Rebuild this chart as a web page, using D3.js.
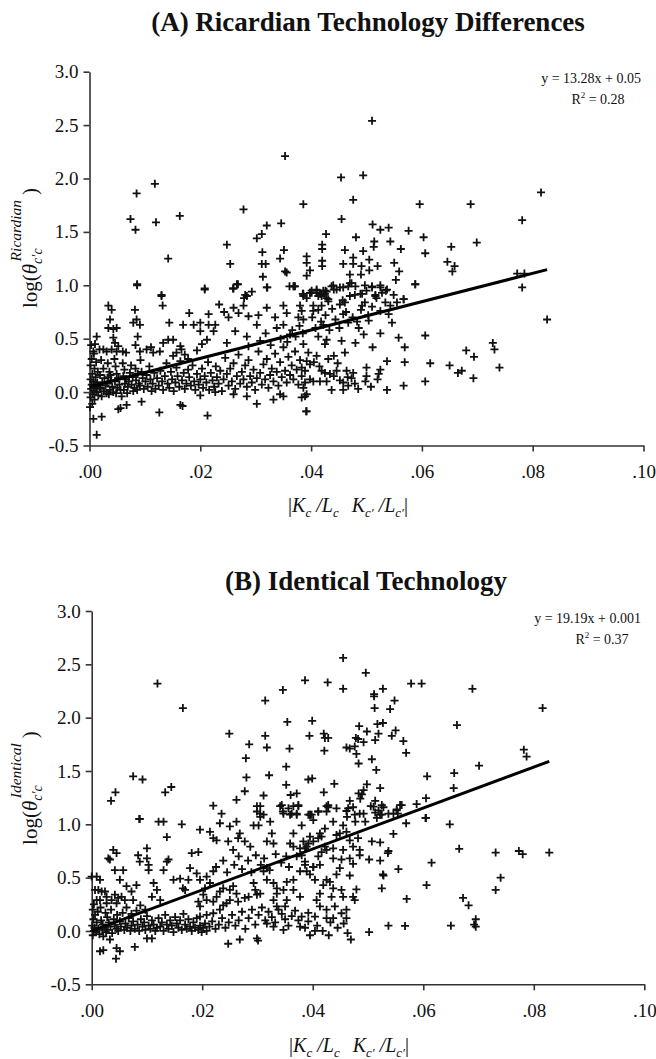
<!DOCTYPE html>
<html>
<head>
<meta charset="utf-8">
<script src="https://cdn.jsdelivr.net/npm/d3@7"></script>
<style>
  body { margin: 0; background: #fff; }
  text { font-family: "Liberation Serif", "Times New Roman", serif; fill: #111; }
</style>
</head>
<body>
<svg id="chart" width="656" height="1059"></svg>
<script>
// tick values shared by both panels
var xTicks = [0, 0.02, 0.04, 0.06, 0.08, 0.10];
var yTicks = [-0.5, 0, 0.5, 1.0, 1.5, 2.0, 2.5, 3.0];

// fitted lines: [slope, intercept]
var fitRicardian = [13.28, 0.05];
var fitIdentical = [19.19, 0.001];
var r2Ricardian = 0.28;
var r2Identical = 0.37;

// (A) Ricardian technology differences, [|Kc/Lc - Kc'/Lc'|, log(theta)]
var ricardianPoints = [
  [.0074,1.62],[.0085,1.86],[.0083,1.52],[.0118,1.95],[.012,1.59],[.0163,1.65],[.0142,1.25],[.0086,1.01],[.013,.91],[.0208,.96],
  [.0278,1.71],[.0248,1.38],[.0254,1.20],[.026,.97],[.0268,1.01],[.0281,.91],[.0293,.94],[.0302,1.44],[.0311,1.48],[.032,1.56],
  [.0312,1.31],[.0311,1.20],[.0318,1.20],[.0313,1.08],[.0321,.98],[.0353,2.21],[.0346,1.58],[.0351,1.33],[.0344,1.25],[.0353,1.13],
  [.0356,1.12],[.0361,.99],[.0369,.99],[.0386,1.76],[.0392,1.27],[.0392,1.21],[.0398,1.14],[.0392,1.09],[.0385,.92],[.0398,.93],
  [.041,.95],[.0418,.92],[.0427,1.48],[.042,1.38],[.042,1.34],[.042,1.23],[.042,1.18],[.0426,.95],
  [.051,2.54],[.0454,2.01],[.0494,2.03],[.0476,1.80],[.0596,1.76],[.0688,1.76],[.0815,1.87],[.0781,1.61],[.0455,1.62],[.0511,1.57],
  [.0525,1.52],[.054,1.54],[.0576,1.51],[.0481,1.45],[.0603,1.45],[.0514,1.41],[.0543,1.41],[.0461,1.33],[.0494,1.32],[.0513,1.36],
  [.0562,1.34],[.0653,1.36],[.0699,1.40],[.0606,1.30],[.0476,1.26],[.0505,1.24],[.0458,1.20],[.0476,1.20],[.0491,1.18],[.052,1.18],
  [.055,1.21],[.0646,1.22],[.0659,1.18],[.0655,1.13],[.0505,1.14],[.0559,1.13],[.047,1.10],[.049,1.10],[.0553,1.05],[.0473,1.02],
  [.0588,1.01],[.0772,1.11],[.0785,1.11],[.0781,.98],[.044,1.00],
  [.0401,.93],[.041,.93],[.0419,.90],[.0428,.94],[.0441,.96],[.0452,.98],[.0467,.99],[.0497,1.0],[.051,.99],[.0525,1.0],
  [.0537,.96],[.0549,.91],[.0567,.87],[.0479,.91],[.0492,.92],[.0516,.91],
  [.0386,.92],[.0392,.88],[.0401,.95],[.041,.96],[.0416,.92],[.0422,.95],[.0428,.88],[.0437,.99],[.0446,.96],[.0458,.98],
  [.047,1.02],[.048,.99],[.0489,.92],[.05,.95],[.051,.98],[.0516,.90],[.0525,.98],[.0534,.84],[.0543,.81],[.0555,.84],
  [.0567,.87],[.0588,1.01],[.0458,.73],[.0467,.65],[.0504,.67],[.0525,.76],[.054,.73],[.0546,.65],[.0386,.68],[.0422,.63],
  [.0404,.81],[.0413,.77],[.0431,.85],[.0452,.82],[.0461,.84],[.0492,.81],
  [.0486,.60],[.0495,.54],[.048,.46],[.0455,.48],[.0428,.49],[.0425,.45],[.0413,.52],[.0441,.34],[.0461,.37],[.041,.34],
  [.0395,.37],[.0392,.29],[.0398,.26],[.0389,.20],[.0383,.23],[.0419,.20],[.0425,.18],[.0434,.17],[.0441,.15],[.0446,.20],
  [.0464,.20],[.0476,.18],[.0473,.13],[.0467,.06],[.0458,.02],[.0437,.02],[.0428,.10],[.0416,.10],[.0404,.10],[.0398,.12],
  [.0389,.09],[.0386,.04],[.0389,-.04],[.0392,-.02],
  [.0525,.55],[.0558,.51],[.0606,.53],[.0569,.42],[.0511,.42],[.0537,.29],[.0569,.28],[.0615,.27],[.065,.25],[.068,.39],
  [.0694,.33],[.0665,.18],[.0672,.20],[.0693,.13],[.0728,.46],[.0731,.40],[.074,.23],[.0606,.10],[.0567,.06],[.0537,.02],
  [.0525,.21],[.0522,.17],[.05,.23],[.05,.15],[.0391,-.18],[.0826,.68],
  [.0086,1.00],[.013,.90],[.0132,.81],[.0034,.81],[.004,.77],[.0082,.77],[.0085,.68],[.0079,.65],[.0091,.63],[.0037,.68],
  [.0034,.60],[.0043,.59],[.0049,.60],[.0144,.65],[.0208,.97],[.018,.74],[.0169,.63],[.0188,.63],[.02,.65],[.0215,.63],
  [.0227,.63],[.0215,.73],[.0234,.82],[.0243,.75],[.0251,.70],[.026,.79],[.0269,.74],[.0278,.81],[.0287,.71],[.0266,1.01],
  [.0259,.97],[.0284,.90],[.0279,.88],[.0302,.63],[.0305,.72],[.032,.79],[.032,.98],[.0335,.70],[.035,.81],[.0356,.74],
  [.0368,.99],[.0371,.99],[.038,.81],[.0386,.90],[.0398,.93],[.0413,.90],[.0425,.92],[.0431,.87],[.0419,.81],[.0377,.70],
  [.0383,.76],[.0404,.76],[.035,.63],[.0362,.54],[.0224,.57],[.02,.57],[.0212,.49],[.0203,.45],[.0194,.39],[.0263,.57],
  [.0248,.46],[.0284,.52],[.0287,.43],[.0083,.44],[.0087,.52],[.0091,.38],[.0103,.40],[.0111,.42],[.0115,.37],[.0127,.38],
  [.0133,.46],[.0142,.49],[.0151,.49],[.0013,.52],[.001,.45],[.0007,.38],[.0018,.40],[.0025,.40],[.0043,.51],[.0046,.46],
  [.0052,.43],[.0049,.38],[.004,.40],[.0031,.38],[.006,.38],[.0066,.37],[.0164,.43],[.0166,.40],[.0157,.37],[.0151,.34],
  [.0172,.35],[.0178,.31],
  [.0005,-.11],[.0001,-.14],[.0007,-.25],[.0022,-.23],[.0013,-.40],[.0052,-.16],[.0056,-.15],[.0067,-.12],[.0094,-.09],[.0126,-.19],
  [.0213,-.22],[.0164,-.12],[.0168,-.13],[.0302,-.11],[.0332,-.07],[.0344,-.02],[.035,-.04],[.0383,-.05],[.0392,-.18],[.0227,.0],
  [.02,-.03],[.026,-.02],[.0284,-.04],
  [.0003,.44],[.0008,.36],[.0004,.31],[.0012,.28],[.0002,.25],[.0009,.22],[.0015,.19],[.0005,.17],[.0011,.14],[.0002,.12],
  [.0007,.10],[.0014,.09],[.0004,.07],[.001,.05],[.0018,.04],[.0003,.03],[.0008,.01],[.0013,.0],[.0006,-.02],[.0016,-.03],
  [.0002,-.05],[.0009,-.07],[.0021,.30],[.0025,.22],[.0019,.16],[.0027,.13],[.0023,.09],[.0029,.06],[.002,.03],[.0026,.01],
  [.0031,-.01],[.0022,-.04],[.0033,.27],[.0036,.19],[.0034,.14],[.0039,.11],[.0032,.08],[.0041,.05],[.0037,.02],[.0035,-.02],
  [.0043,.0],[.0038,.16],[.0045,.31],[.0047,.24],[.0049,.17],[.0052,.13],[.0046,.10],[.0054,.07],[.005,.04],[.0056,.02],
  [.0048,-.01],[.0058,-.04],[.006,.27],[.0063,.21],[.0061,.15],[.0066,.12],[.0064,.08],[.0069,.05],[.0062,.02],[.0068,-.01],
  [.0071,.1],[.0073,.18],[.0075,.25],[.0078,.14],[.0076,.07],[.0081,.04],[.0079,.01],[.0084,.11],[.0087,.17],[.0089,.08],
  [.0086,.02],[.0083,.22],[.0092,.30],[.0094,.19],[.0096,.13],[.0091,.06],[.0098,.03],[.0101,.1],[.0103,.16],[.0105,.05],
  [.0108,.24],[.011,.12],[.0112,.01],[.0114,.08],[.0117,.18],[.0119,.03],
  [.0122,.13],[.0125,.06],[.0128,.2],[.0131,.1],[.0133,.02],[.0136,.15],[.0139,.27],[.0141,.08],[.0144,.04],[.0147,.19],
  [.0149,.12],[.0152,.01],[.0155,.09],[.0157,.23],[.0159,.15],[.0162,.05],[.0164,.29],[.0167,.11],[.017,.18],[.0172,.03],
  [.0175,.08],[.0178,.21],[.018,.14],[.0183,.06],[.0186,.25],[.0189,.1],[.0191,.02],[.0194,.17],[.0197,.07],[.02,.12],
  [.0203,.22],[.0205,.04],[.0208,.15],[.0211,.09],[.0214,.28],[.0216,.02],[.0219,.18],[.0222,.11],[.0225,.05],[.0228,.24],
  [.023,.14],[.0233,.08],[.0236,.2],[.0239,.01],[.0242,.12],[.0245,.32],[.0248,.17],[.0251,.06],
  [.0254,.22],[.0257,.1],[.026,.27],[.0263,.03],[.0266,.15],[.0269,.35],[.0272,.08],[.0275,.19],[.0278,.12],[.0281,.25],
  [.0284,.05],[.0287,.3],[.029,.15],[.0293,.09],[.0296,.21],[.0299,.02],[.0302,.13],[.0305,.38],[.0308,.18],[.0311,.07],
  [.0314,.26],[.0317,.12],[.032,.31],[.0323,.04],[.0326,.16],[.0329,.22],[.0332,.1],[.0335,.36],[.0338,.19],[.0341,.06],
  [.0344,.28],[.0347,.14],[.035,.42],[.0353,.2],[.0356,.09],[.0359,.33],[.0362,.16],[.0365,.25],[.0368,.12],[.0371,.38],
  [.0374,.21],[.0377,.07],[.038,.3],[.0383,.15],[.0386,.45],
  [.0308,.48],[.0318,.55],[.0327,.44],[.0338,.6],[.0345,.5],[.0357,.47],[.0366,.58],[.0372,.52],[.0379,.62],[.0385,.55],
  [.0405,.28],[.0415,.24],[.0431,.31],[.0448,.27],[.0452,.11],[.0458,.09],[.0466,.14],[.0479,.08],[.0485,.03],[.0498,.1],
  [.0508,.05],[.052,.12],
  [.0402,.7],[.0408,.6],[.0418,.66],[.0426,.72],[.0433,.58],[.0438,.78],[.0444,.68],[.0451,.6],[.0457,.86],[.0463,.75],
  [.047,.9],[.0475,.7],[.0483,.66],[.049,.77],[.0497,.84],[.0503,.72],[.051,.8],[.0518,.88],[.0528,.93],[.0535,.95]
];

// (B) identical technology
var identicalPoints = [
  [.0119,2.32],[.0165,2.09],[.0035,1.22],[.0043,1.30],[.0075,1.45],[.0092,1.42],[.0133,1.30],[.0144,1.35],[.0087,1.05],[.022,1.175],
  [.0235,1.10],[.0249,1.85],[.0262,1.23],[.0279,1.62],[.028,1.44],[.0277,1.31],[.0285,1.75],[.0314,2.16],[.0314,1.83],[.0317,1.72],
  [.0321,1.46],[.0311,1.27],[.0305,1.17],[.0305,1.10],[.0346,2.26],[.0354,1.96],[.0358,1.71],[.0352,1.54],[.0352,1.37],[.036,1.275],
  [.0371,1.29],[.0344,1.18],[.0346,1.12],[.0356,1.15],[.0365,1.17],[.0374,1.18],[.0359,1.09],[.0371,1.10],[.0386,2.35],[.0399,1.97],
  [.0394,1.83],[.0399,1.43],[.0392,1.42],[.042,1.30],[.0392,1.09],[.0398,1.09],[.041,1.12],[.0427,2.33],[.042,1.85],[.0422,1.81],
  [.0428,1.81],[.0421,1.69],[.0425,1.17],[.0428,1.18],
  [.0455,2.56],[.0496,2.42],[.0455,2.27],[.0511,2.22],[.0511,2.20],[.0527,2.27],[.0578,2.32],[.0597,2.32],[.0689,2.27],[.0548,2.16],
  [.0512,2.09],[.054,2.08],[.0816,2.09],[.0661,1.93],[.0484,1.92],[.0498,1.87],[.0517,1.94],[.0527,1.95],[.0519,1.85],[.055,1.88],
  [.0543,1.83],[.0513,1.79],[.0564,1.78],[.0569,1.67],[.0461,1.72],[.0467,1.71],[.0478,1.81],[.0482,1.80],[.0476,1.73],[.0492,1.77],
  [.0479,1.66],[.0483,1.57],[.0507,1.61],[.0515,1.51],[.0782,1.70],[.0787,1.635],[.0701,1.55],[.0656,1.48],[.0655,1.34],[.0607,1.45],
  [.0605,1.245],[.0588,1.19],[.0439,1.38],[.0498,1.375],[.0483,1.29],[.0489,1.28],[.0492,1.32],[.0486,1.24],[.0522,1.34],[.0467,1.22],
  [.0513,1.22],[.0505,1.17],[.0528,1.16],[.0561,1.18],[.0552,1.14],[.0537,1.10],[.0522,1.09],[.0513,1.11],[.0492,1.10],[.0473,1.16],
  [.0476,1.09],[.0461,1.125],[.0443,1.15],[.0428,1.16],[.0425,1.12],[.041,1.12],[.0395,1.09],[.0554,1.10],[.0604,1.06],
  [.0086,1.05],[.0121,1.025],[.013,1.025],[.0163,1.0],[.0136,.88],
  [.0196,.95],[.0214,.93],[.022,.87],[.0226,.85],[.0232,1.01],[.025,.98],[.0262,1.025],[.0268,.915],[.0265,.87],[.0247,.84],
  [.0256,.76],[.0277,.84],[.0287,.79],[.0293,.99],[.0302,.99],[.0311,1.09],[.0299,1.12],[.0299,1.17],[.0305,1.07],[.0323,1.025],
  [.0326,.915],[.0317,.84],[.0329,.82],[.0341,1.17],[.0347,1.10],[.0362,1.10],[.0374,1.17],[.0371,1.09],[.038,.99],[.0395,1.09],
  [.0401,1.04],[.0395,.885],[.0383,.84],[.0365,.915],[.0359,.82],[.0365,.79],[.0377,.775],[.0389,.79],[.0416,.885],[.0422,.79],
  [.041,.70],[.0401,.60],[.0386,.65],[.038,.71],[.0371,.70],
  [0,.51],[.0009,.51],[.0015,.48],[.0006,.385],[.0012,.385],[.0018,.37],[.0009,.29],[.0015,.29],[.0024,.37],[.0027,.32],
  [.0027,.26],[.0036,.29],[.0042,.34],[.0048,.31],[.0045,.26],[.0054,.32],[.006,.29],[.0033,.67],[.0039,.76],[.0045,.73],
  [.003,.68],[.0042,.57],[.0057,.57],[.0051,.48],[.0063,.42],[.0072,.37],[.0075,.29],[.0081,.43],[.0084,.71],[.0087,.65],
  [.01,.68],[.01,.775],[.0103,.62],[.0103,.57],[.0109,.32],[.0112,.45],[.0118,.385],[.0124,.29],[.013,.57],[.0136,.65],
  [.0139,.67],[.0148,.48],[.016,.49],[.0165,.40],[.0169,.385],[.0175,.48],[.0181,.73],[.0193,.74],[.0178,.59],[.019,.54],
  [.0196,.48],[.0208,.51],[.022,.56],[.0214,.45],[.0205,.40],[.0202,.34],[.0193,.275],[.0196,.23],[.0208,.29],[.022,.275],
  [.0226,.32],[.0232,.37],[.0238,.40],[.025,.385],[.0256,.42],[.0262,.35],[.0265,.275],[.025,.29],[.0244,.26],[.0238,.24],
  [.0232,.20],[.022,.166],[.0208,.15],[.0196,.135],[.0277,.31],[.0284,.32],[.0293,.45],[.0296,.385],[.0299,.34],[.0305,.35],
  [.0311,.56],[.0317,.48],[.0317,.59],[.0329,.45],[.0335,.40],[.0347,.385],[.0353,.46],[.0365,.48],[.0377,.56],[.0365,.385],
  [.0377,.32],[.0353,.29],[.035,.23],[.0335,.23],[.0329,.29],[.0335,.35],
  [.0225,.6],[.0238,.66],[.0245,.55],[.0258,.62],[.0266,.7],[.0272,.58],[.0283,.66],[.0289,.55],[.0297,.71],[.0306,.62],
  [.0312,.68],[.0322,.57],[.0333,.72],[.0343,.64],[.0352,.7],[.0357,.6],
  [.0015,-.19],[.0021,-.18],[.0045,-.16],[.0051,-.19],[.0044,-.26],[.0078,-.15],[.0033,-.08],[.0021,-.05],[.01,-.07],[.0109,-.07],
  [.0247,-.12],[.0268,-.08],[.0299,-.07],[.0301,-.09],[.0347,.01],[.0329,.04],[.0317,.07],[.0377,.04],[.0395,-.04],[.0404,.0],
  [.0392,.09],[.038,.135],[.0404,.135],
  [.0002,.2],[.0006,.15],[.0003,.11],[.0009,.08],[.0001,.05],[.0005,.03],[.0012,.02],[.0004,.0],[.0008,-.01],[.0014,-.03],
  [.0002,-.04],[.0017,.1],[.002,.06],[.0023,.03],[.0019,.01],[.0026,-.01],[.0028,.13],[.0031,.08],[.0034,.04],[.0029,.01],
  [.0037,-.02],[.004,.11],[.0042,.06],[.0045,.02],[.0048,.0],[.0051,.09],[.0053,.04],[.0056,.17],[.0059,.01],[.0061,.07],
  [.0064,.03],[.0067,.12],[.007,.0],[.0072,.05],[.0075,.09],[.0078,.02],[.0081,.19],[.0083,.06],[.0086,.0],[.0089,.11],
  [.0092,.04],[.0095,.08],[.0097,.01],[.01,.14],[.0103,.05],[.0106,.02],[.0109,.1],[.0112,.06],[.0115,.0],[.0118,.03],
  [.0004,.25],[.0011,.18],[.0016,.22],[.0025,.17],[.0035,.2],[.0046,.15],[.0063,.22],[.0072,.16],[.0088,.24],[.0097,.2],
  [.0121,.12],[.0124,.04],[.0127,.08],[.013,.0],[.0133,.15],[.0136,.06],[.0139,.02],[.0142,.1],[.0145,.05],[.0148,-.01],
  [.0151,.13],[.0154,.07],[.0157,.03],[.016,.1],[.0163,.01],[.0166,.16],[.0169,.06],[.0172,.02],[.0175,.11],[.0178,.04],
  [.0181,.0],[.0184,.08],[.0187,.03],[.019,.12],[.0193,.01],[.0196,.05],[.0199,-.01],[.0202,.03],[.0205,.07],[.0208,.0],
  [.0213,.04],[.0218,.09],[.0224,.02],[.023,.06],[.0236,.12],[.0242,.03],[.0248,.08],[.0254,.15],[.026,.05],[.0266,.1],
  [.0272,.18],[.0278,.02],[.0284,.12],[.029,.2],[.0296,.06],[.0302,.15],[.0308,.22],[.0314,.1],[.032,.18],[.0326,.13],
  [.0332,.08],[.0338,.2],[.0344,.16],[.035,.11],[.0356,.05],[.0362,.14],[.0368,.19],[.0374,.1],[.0386,.03],[.0392,.17],
  [.0648,1.00],[.0605,1.06],[.0665,.77],[.0731,.735],[.0773,.75],[.078,.72],[.0828,.735],[.074,.50],[.0731,.385],[.0615,.64],
  [.0606,.43],[.0672,.31],[.0682,.24],[.0695,.11],[.0695,.04],[.0692,.06],[.065,.05],[.0567,.047],[.0537,.05],[.0502,-.01],
  [.0469,-.08],[.0429,-.04],[.057,.30],
  [.0555,.58],[.0525,.40],[.0527,.53],[.0528,.52],[.0522,.66],[.0536,.73],[.0537,.75],[.0502,.67],[.0473,.63],[.0467,.52],
  [.0479,.39],[.0473,.32],[.0476,.29],[.0452,.385],[.0455,.32],[.0437,.40],[.0434,.32],[.044,.23],[.0425,.20],[.0461,.20],
  [.0461,.12],[.0452,.166],[.0437,.12],[.0425,.12],[.0413,.23],[.0407,.29],[.0413,.35],[.0419,.43],[.0404,.48],[.0395,.53],
  [.0389,.56],[.0386,.62],[.0401,.60],[.0413,.62],[.0425,.48],[.0431,.46],[.0443,.53],[.0449,.59],[.0467,.68],[.0485,.71],
  [.0452,.67],[.0437,.68],[.0507,.84],[.0522,.83],[.0546,.91],[.0569,1.01],[.0558,1.18],[.0519,1.13],[.0525,1.09],[.0546,1.10],
  [.0516,1.06],[.0485,1.10],[.0495,1.025],[.0477,1.025],[.0462,1.07],[.0464,1.15],[.0455,.99],[.0437,1.025],[.0422,.96],[.0413,.915],
  [.041,.87],[.0401,.84],[.0392,.82],[.0386,.775],[.0443,.90],[.0449,.915],[.0461,.93],[.0467,.85],[.0482,.87],[.0473,.79],
  [.0485,.76],[.0455,.76],[.0437,.775],[.0425,.76],[.0416,.74],[.051,1.165],[.0525,1.18],[.0552,1.13],
  [.0408,.05],[.0418,.0],[.0432,.08],[.0445,.03],[.0456,.07],[.0463,-.02]
];

var svg = d3.select('#chart');
svg.append('rect').attr('width', 656).attr('height', 1059).attr('fill', '#fff');

var fmtY = function(d){ return d.toFixed(1); };
var fmtX = function(d){ return d.toFixed(2).replace(/^0/, ''); };

function drawPanel(o){
  var g = svg.append('g');
  var x = d3.scaleLinear().domain([0, 0.1]).range(o.xRange);
  var y = d3.scaleLinear().domain([-0.5, 3]).range(o.yRange);

  g.append('text')
    .attr('x', o.titleX).attr('y', o.titleY)
    .attr('text-anchor', 'middle')
    .style('font-size', '27px').style('font-weight', 'bold')
    .text(o.title);

  var yAxis = g.append('g')
    .attr('transform', 'translate(' + o.xRange[0] + ',0)')
    .call(d3.axisLeft(y).tickValues(yTicks).tickFormat(fmtY).tickSize(6).tickSizeOuter(0).tickPadding(5));
  var xAxis = g.append('g')
    .attr('transform', 'translate(0,' + o.yRange[0] + ')')
    .call(d3.axisBottom(x).tickValues(xTicks).tickFormat(fmtX).tickSize(6).tickSizeOuter(0).tickPadding(13));
  [xAxis, yAxis].forEach(function(a){
    a.selectAll('path, line').attr('stroke', '#333').attr('stroke-width', 1.6);
    a.selectAll('text').style('font-size', '19px')
      .style('font-family', '"Liberation Serif", serif').attr('fill', '#111');
  });

  // points as "+" marks
  g.append('g').selectAll('path')
    .data(o.points)
    .enter().append('path')
    .attr('transform', function(d){ return 'translate(' + x(d[0]) + ',' + y(d[1]) + ')'; })
    .attr('d', 'M-4,0H4M0,-4V4')
    .attr('stroke', '#111')
    .attr('stroke-width', 1.8);

  // fitted line from 0 to the largest x
  var xMax = d3.max(o.points, function(d){ return d[0]; });
  g.append('line')
    .attr('x1', x(0)).attr('y1', y(o.fit[1]))
    .attr('x2', x(xMax)).attr('y2', y(o.fit[0] * xMax + o.fit[1]))
    .attr('stroke', '#000').attr('stroke-width', 3);

  // equation and R^2
  g.append('text')
    .attr('x', 641).attr('y', o.eqY)
    .attr('text-anchor', 'end')
    .style('font-size', '14px')
    .text('y = ' + o.fit[0].toFixed(2) + 'x + ' + o.interceptLabel);
  var r2 = g.append('text')
    .attr('x', o.r2X).attr('y', o.eqY + 21)
    .attr('text-anchor', 'middle')
    .style('font-size', '14px');
  r2.append('tspan').text('R');
  r2.append('tspan').attr('dy', -6).style('font-size', '9px').text('2');
  r2.append('tspan').attr('dy', 6).text(' = ' + o.r2.toFixed(2));

  // y axis title
  var yt = g.append('text')
    .attr('transform', 'translate(37,' + o.yTitleY + ') rotate(-90)')
    .attr('text-anchor', 'middle')
    .style('font-size', '21px');
  yt.append('tspan').text('log(');
  yt.append('tspan').style('font-style', 'italic').text('θ');
  yt.append('tspan').style('font-style', 'italic').style('font-size', '14px').attr('dy', 5).text('c′c');
  yt.append('tspan').style('font-style', 'italic').style('font-size', '15.5px').attr('dx', -13).attr('dy', -21).text(o.superscript);
  yt.append('tspan').attr('dx', 5).attr('dy', 16).text(')');

  // x axis title
  var xt = g.append('text')
    .attr('x', o.xTitleX).attr('y', o.xTitleY)
    .attr('text-anchor', 'middle')
    .style('font-size', '20px');
  xt.append('tspan').text('|');
  xt.append('tspan').style('font-style', 'italic').text('K');
  xt.append('tspan').style('font-style', 'italic').style('font-size', '13px').attr('dy', 5).text('c');
  xt.append('tspan').style('font-style', 'italic').attr('dy', -5).text(' /L');
  xt.append('tspan').style('font-style', 'italic').style('font-size', '13px').attr('dy', 5).text('c');
  xt.append('tspan').style('font-style', 'italic').attr('dy', -5).attr('dx', 13).text('K');
  xt.append('tspan').style('font-style', 'italic').style('font-size', '13px').attr('dy', 5).text('c′');
  xt.append('tspan').style('font-style', 'italic').attr('dy', -5).text(' /L');
  xt.append('tspan').style('font-style', 'italic').style('font-size', '13px').attr('dy', 5).text('c′');
  xt.append('tspan').attr('dy', -5).text('|');
}

drawPanel({
  title: '(A) Ricardian Technology Differences',
  titleX: 368, titleY: 31,
  points: ricardianPoints,
  fit: fitRicardian, interceptLabel: '0.05', r2: r2Ricardian,
  xRange: [89.5, 643.5], yRange: [445.5, 71.7],
  eqY: 83, r2X: 598,
  superscript: 'Ricardian', yTitleY: 248,
  xTitleX: 348, xTitleY: 512
});

drawPanel({
  title: '(B) Identical Technology',
  titleX: 366, titleY: 590,
  points: identicalPoints,
  fit: fitIdentical, interceptLabel: '0.001', r2: r2Identical,
  xRange: [91.7, 644.3], yRange: [984.3, 611],
  eqY: 623, r2X: 602,
  superscript: 'Identical', yTitleY: 788,
  xTitleX: 349, xTitleY: 1052
});
</script>
</body>
</html>
